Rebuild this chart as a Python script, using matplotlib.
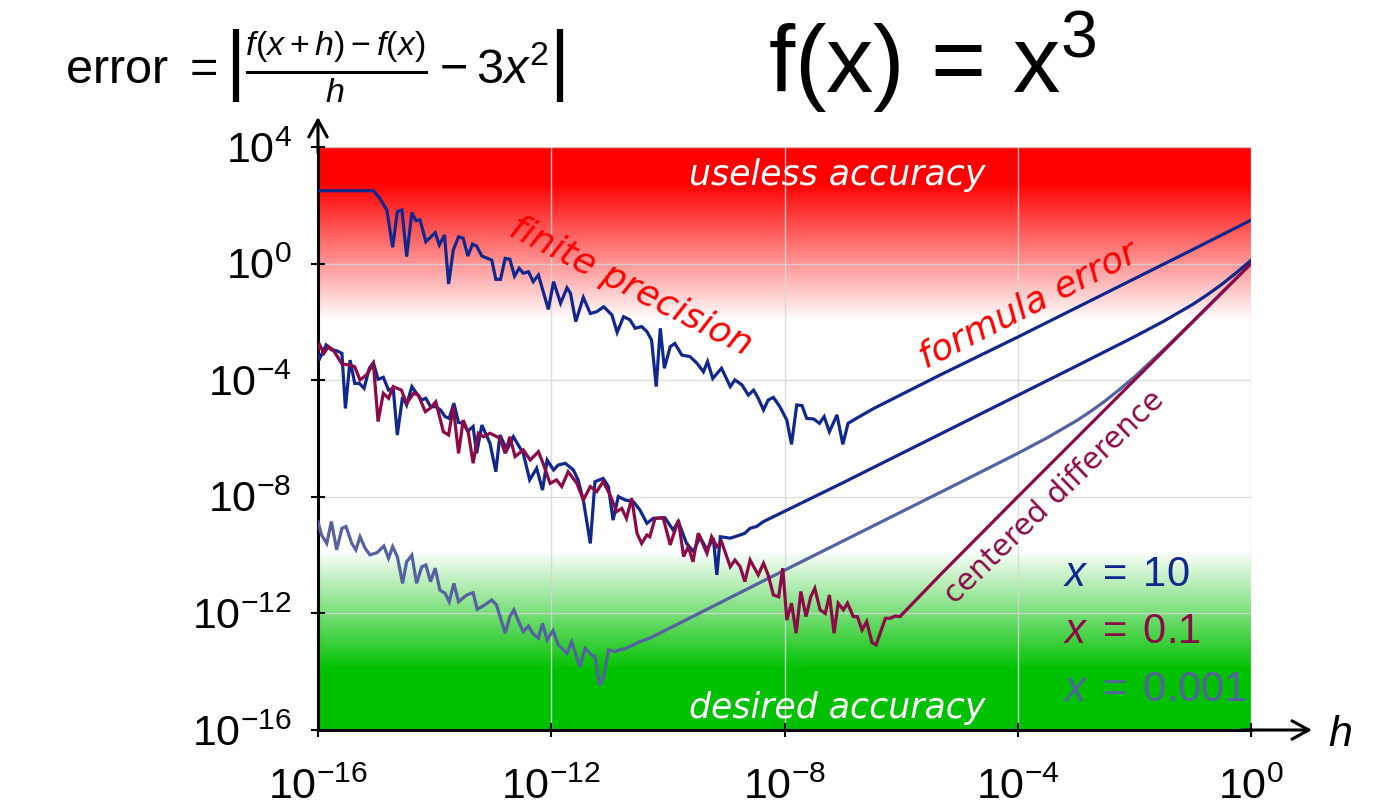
import numpy as np
import matplotlib
matplotlib.use('Agg')
import matplotlib.pyplot as plt
from matplotlib.ticker import NullLocator, FixedLocator

plt.rcParams['mathtext.fontset'] = 'custom'
plt.rcParams['mathtext.rm'] = 'Liberation Sans'
plt.rcParams['mathtext.it'] = 'Liberation Sans:italic'
plt.rcParams['mathtext.bf'] = 'Liberation Sans:bold'
plt.rcParams['mathtext.sf'] = 'Liberation Sans'
plt.rcParams['font.family'] = ['Liberation Sans', 'DejaVu Sans']

# ---------------- data: (log10 h, log10 error) ----------------
x10_forward = [
    (-16.0, 2.50), (-15.05, 2.50), (-14.94, 2.24), (-14.82, 1.84), (-14.72, 0.56), (-14.64, 1.78),
    (-14.56, 1.84), (-14.48, 0.24), (-14.39, 1.75), (-14.32, 1.47), (-14.25, 1.50), (-14.15, 0.75),
    (-13.99, 1.06), (-13.92, 0.64), (-13.83, 0.98), (-13.76, -0.70), (-13.68, 0.47), (-13.59, 0.92),
    (-13.51, 0.87), (-13.43, 0.26), (-13.35, 0.67), (-13.28, 0.60), (-13.19, 0.26), (-13.02, 0.12),
    (-12.95, -0.54), (-12.87, -0.54), (-12.79, 0.18), (-12.71, 0.15), (-12.63, -0.43), (-12.55, -0.16),
    (-12.48, -0.33), (-12.39, -0.28), (-12.31, -0.62), (-12.22, -0.39), (-12.05, -1.57), (-11.96, -0.62),
    (-11.84, -1.36), (-11.73, -0.83), (-11.67, -1.02), (-11.58, -1.99), (-11.45, -1.16), (-11.33, -1.71),
    (-11.22, -1.65), (-11.10, -1.48), (-10.96, -1.76), (-10.87, -2.36), (-10.76, -1.82), (-10.65, -1.93),
    (-10.56, -2.22), (-10.45, -2.16), (-10.36, -2.33), (-10.28, -2.62), (-10.20, -4.22), (-10.13, -2.22),
    (-10.06, -3.59), (-9.96, -2.85), (-9.88, -2.74), (-9.76, -3.14), (-9.62, -3.19), (-9.50, -3.42),
    (-9.39, -3.71), (-9.32, -3.36), (-9.23, -3.94), (-9.08, -3.59), (-8.93, -4.22), (-8.85, -3.99),
    (-8.73, -4.16), (-8.62, -4.51), (-8.53, -4.34), (-8.45, -4.62), (-8.36, -5.02), (-8.28, -4.68),
    (-8.19, -4.59), (-8.08, -4.91), (-7.96, -5.37), (-7.88, -6.20), (-7.79, -4.85), (-7.70, -4.87),
    (-7.62, -5.31), (-7.50, -5.33), (-7.40, -5.48), (-7.32, -5.25), (-7.23, -5.77), (-7.10, -5.19),
    (-7.00, -6.20), (-6.91, -5.48), (-6.82, -5.37), (-6.47, -4.97), (-5.33, -3.82), (-4.0, -2.52),
    (-2.0, -0.52), (-1.0, 0.48), (0.0, 1.49),
]

x01_forward = [
    (-16.0, -3.10), (-15.97, -3.25), (-15.86, -2.79), (-15.77, -2.96), (-15.68, -2.99), (-15.59, -3.08),
    (-15.53, -4.97), (-15.45, -3.31), (-15.37, -4.11), (-15.29, -4.11), (-15.21, -4.28), (-15.12, -3.59),
    (-15.05, -3.40), (-14.97, -3.97), (-14.88, -3.90), (-14.79, -4.34), (-14.71, -4.28), (-14.64, -5.88),
    (-14.55, -4.57), (-14.48, -4.85), (-14.39, -4.22), (-14.31, -4.45), (-14.22, -4.68), (-14.15, -4.62),
    (-14.07, -4.91), (-13.98, -4.91), (-13.90, -5.02), (-13.82, -5.25), (-13.75, -5.31), (-13.67, -4.79),
    (-13.59, -5.45), (-13.51, -5.48), (-13.43, -5.75), (-13.34, -5.59), (-13.28, -6.51), (-13.19, -5.54),
    (-13.05, -6.17), (-12.95, -7.14), (-12.88, -5.88), (-12.76, -6.39), (-12.65, -5.94), (-12.48, -6.51),
    (-12.37, -7.42), (-12.25, -7.02), (-12.15, -7.77), (-12.07, -6.74), (-11.96, -7.08), (-11.88, -6.91),
    (-11.76, -6.85), (-11.62, -7.08), (-11.54, -7.42), (-11.45, -8.11), (-11.33, -9.60), (-11.25, -7.48),
    (-11.11, -7.37), (-11.02, -7.65), (-10.94, -8.80), (-10.85, -7.99), (-10.73, -8.11), (-10.59, -8.17),
    (-10.48, -8.45), (-10.36, -8.91), (-10.25, -8.74), (-10.05, -8.72), (-9.91, -9.14), (-9.82, -8.85),
    (-9.68, -9.60), (-9.56, -9.88), (-9.45, -9.37), (-9.33, -9.82), (-9.22, -9.42), (-9.16, -10.68),
    (-9.10, -9.37), (-8.93, -9.42), (-8.76, -9.31), (-8.68, -9.25), (-8.59, -9.08), (-8.48, -9.02),
    (-8.36, -8.85), (-7.0, -7.52), (-6.0, -6.52), (-5.0, -5.52), (-4.0, -4.52), (-3.0, -3.52),
    (-2.0, -2.51), (-1.5, -1.98), (-1.0, -1.40), (-0.75, -1.07), (-0.5, -0.71), (-0.25, -0.31), (0.0, 0.11),
]

x01_centered = [
    (-16.0, -2.95), (-15.97, -2.79), (-15.90, -3.08), (-15.82, -2.85), (-15.74, -2.96), (-15.59, -3.44),
    (-15.45, -3.48), (-15.37, -3.54), (-15.28, -3.99), (-15.17, -3.82), (-15.05, -3.44), (-14.97, -5.42),
    (-14.88, -4.45), (-14.79, -4.62), (-14.71, -4.22), (-14.57, -4.34), (-14.48, -4.79), (-14.36, -4.45),
    (-14.28, -4.51), (-14.16, -5.08), (-14.08, -4.97), (-13.98, -4.74), (-13.85, -5.77), (-13.76, -5.88),
    (-13.68, -4.91), (-13.59, -6.51), (-13.51, -5.37), (-13.42, -5.82), (-13.34, -6.85), (-13.25, -5.82),
    (-13.16, -5.94), (-13.05, -5.82), (-12.88, -5.99), (-12.79, -6.51), (-12.71, -5.94), (-12.62, -6.62),
    (-12.48, -6.39), (-12.36, -6.74), (-12.22, -6.45), (-12.14, -6.85), (-12.02, -7.54), (-11.91, -7.42),
    (-11.82, -7.65), (-11.71, -7.14), (-11.56, -7.54), (-11.45, -8.11), (-11.33, -7.65), (-11.22, -7.82),
    (-11.11, -7.48), (-10.99, -7.94), (-10.88, -8.51), (-10.79, -8.40), (-10.71, -8.74), (-10.62, -8.05),
    (-10.53, -9.25), (-10.45, -9.60), (-10.36, -9.31), (-10.31, -9.37), (-10.22, -8.74), (-10.08, -8.72),
    (-9.96, -9.65), (-9.82, -8.80), (-9.73, -10.05), (-9.65, -9.71), (-9.57, -10.23), (-9.48, -9.25),
    (-9.33, -9.94), (-9.25, -9.37), (-9.16, -9.71), (-9.08, -9.54), (-8.93, -10.40), (-8.85, -10.17),
    (-8.76, -10.40), (-8.68, -10.91), (-8.59, -10.17), (-8.45, -10.68), (-8.36, -10.28), (-8.28, -10.68),
    (-8.19, -11.37), (-8.10, -11.43), (-8.03, -10.45), (-7.96, -12.23), (-7.88, -11.65), (-7.80, -12.68),
    (-7.72, -11.25), (-7.63, -12.11), (-7.55, -11.43), (-7.48, -11.14), (-7.39, -11.88), (-7.30, -12.00),
    (-7.23, -11.37), (-7.15, -12.68), (-7.08, -11.65), (-6.99, -11.88), (-6.92, -11.65), (-6.82, -12.11),
    (-6.75, -12.11), (-6.67, -12.57), (-6.59, -12.28), (-6.50, -13.00), (-6.43, -13.08), (-6.36, -12.68),
    (-6.27, -12.17), (-6.19, -12.17), (-6.10, -12.09), (-6.02, -12.11), (-5.33, -10.68), (-4.0, -8.0),
    (-2.0, -4.0), (0.0, 0.0),
]

x0001_forward = [
    (-16.0, -8.85), (-15.94, -9.31), (-15.85, -9.60), (-15.77, -8.85), (-15.68, -9.82), (-15.59, -9.08),
    (-15.52, -9.02), (-15.42, -9.60), (-15.35, -9.82), (-15.28, -9.37), (-15.19, -9.77), (-15.11, -9.99),
    (-14.99, -9.92), (-14.87, -9.69), (-14.79, -10.11), (-14.72, -9.71), (-14.64, -10.05), (-14.55, -10.97),
    (-14.48, -10.23), (-14.39, -10.00), (-14.31, -10.97), (-14.22, -10.40), (-14.15, -10.34), (-14.07, -10.91),
    (-13.99, -10.45), (-13.91, -11.20), (-13.82, -11.31), (-13.75, -11.60), (-13.67, -10.97), (-13.59, -11.60),
    (-13.45, -11.37), (-13.34, -11.29), (-13.27, -11.86), (-13.14, -11.71), (-13.02, -11.54), (-12.94, -11.71),
    (-12.79, -12.68), (-12.71, -12.11), (-12.64, -11.88), (-12.56, -12.28), (-12.48, -12.63), (-12.39, -12.43),
    (-12.32, -12.68), (-12.22, -12.85), (-12.15, -12.34), (-12.07, -12.91), (-11.97, -12.59), (-11.88, -13.08),
    (-11.73, -13.37), (-11.65, -12.97), (-11.51, -13.83), (-11.42, -13.20), (-11.31, -13.43), (-11.25, -13.48),
    (-11.17, -14.46), (-11.10, -14.17), (-11.02, -13.25), (-10.92, -13.31), (-10.82, -13.25), (-10.72, -13.20),
    (-10.48, -12.97), (-10.31, -12.85), (-8.0, -10.52), (-6.0, -8.52), (-5.0, -7.52), (-4.0, -6.51),
    (-3.5, -5.98), (-3.0, -5.40), (-2.75, -5.07), (-2.5, -4.71), (-2.25, -4.31), (-2.0, -3.89),
    (-1.5, -2.96), (-1.0, -1.99), (-0.5, -1.00), (0.0, 0.0),
]

xtick_exp = [-16, -12, -8, -4, 0]
ytick_exp = [4, 0, -4, -8, -12, -16]

legend_labels = [r'$x\;=\;10$', r'$x\;=\;0.1$', r'$x\;=\;0.001$']

C_BLUE = '#10288e'
C_MAROON = '#8c0a48'
C_SLATE = '#5661a2'

# ---------------- figure ----------------
W, H = 1394, 808
fig = plt.figure(figsize=(W / 100, H / 100), dpi=100)
rect = [318 / W, (H - 730) / H, 933 / W, 583 / H]

# background shading
bg = fig.add_axes(rect, zorder=0)
fy = np.linspace(0, 1, 800)
red = np.array([1.0, 0.0, 0.0])
white = np.array([1.0, 1.0, 1.0])
green = np.array([0.0, 0.76, 0.0])
cols = np.ones((fy.size, 3))
r_solid, r_white = 0.9385, 0.7035
g_white, g_solid = 0.3085, 0.103
for i, f in enumerate(fy):
    if f >= r_solid:
        cols[i] = red
    elif f >= r_white:
        t = (f - r_white) / (r_solid - r_white)
        cols[i] = white * (1 - t) + red * t
    elif f > g_white:
        cols[i] = white
    elif f > g_solid:
        t = (g_white - f) / (g_white - g_solid)
        cols[i] = white * (1 - t) + green * t
    else:
        cols[i] = green
bg.imshow(cols[:, None, :], aspect='auto', extent=[0, 1, 0, 1], origin='lower',
          interpolation='bilinear')
bg.set_xlim(0, 1)
bg.set_ylim(0, 1)
bg.axis('off')

ax = fig.add_axes(rect, zorder=1)
ax.patch.set_visible(False)
ax.set_xscale('log')
ax.set_yscale('log')
ax.set_xlim(10.0 ** -16, 1.0)
ax.set_ylim(10.0 ** -16, 10.0 ** 4)

ax.xaxis.set_major_locator(FixedLocator([10.0 ** e for e in xtick_exp]))
ax.yaxis.set_major_locator(FixedLocator([10.0 ** e for e in ytick_exp]))
ax.xaxis.set_minor_locator(NullLocator())
ax.yaxis.set_minor_locator(NullLocator())
ax.set_xticklabels([r'$10^{%d}$' % e for e in xtick_exp])
ax.set_yticklabels([r'$10^{%d}$' % e for e in ytick_exp])
ax.tick_params(direction='inout', length=10, width=1.5, labelsize=31, color='black')
ax.tick_params(axis='x', pad=22)
ax.tick_params(axis='y', pad=14)
ax.grid(True, color='#d6d6d6', lw=1.0, alpha=0.85)

for s in ['top', 'right']:
    ax.spines[s].set_visible(False)
for s in ['left', 'bottom']:
    ax.spines[s].set_linewidth(2.2)


def plot_series(data, color, z):
    hs = np.array([p[0] for p in data])
    es = np.array([p[1] for p in data])
    ax.plot(10.0 ** hs, 10.0 ** es, color=color, lw=2.3, solid_joinstyle='miter', zorder=z)


plot_series(x10_forward, C_BLUE, 3)
plot_series(x0001_forward, C_SLATE, 3)
plot_series(x01_forward, C_BLUE, 3)
plot_series(x01_centered, C_MAROON, 4)

# axis arrows
arrow_kw = dict(arrowstyle='->,head_length=0.55,head_width=0.3', lw=2.2, color='black',
                shrinkA=0, shrinkB=0, mutation_scale=22)
ax.annotate('', xy=(0, 1 + 30 / 583), xytext=(0, 0.99), xycoords='axes fraction',
            arrowprops=arrow_kw, annotation_clip=False)
ax.annotate('', xy=((1312 - 318) / 933, 0), xytext=(0.99, 0), xycoords='axes fraction',
            arrowprops=arrow_kw, annotation_clip=False)
fig.text(1340 / W, 1 - 735 / H, r'$h$', fontsize=31, ha='center', va='center')

# annotations
lab_kw = dict(transform=ax.transAxes, family='DejaVu Sans', ha='center', va='center')
ax.text(0.557, 0.952, 'useless accuracy', color='white', fontsize=25, style='italic', **lab_kw)
ax.text(0.557, 0.038, 'desired accuracy', color='white', fontsize=25, style='italic', **lab_kw)
ax.text(0.3355, 0.76, 'finite precision', color='#ff0000', fontsize=26, style='italic',
        rotation=-27, rotation_mode='anchor', **lab_kw)
ax.text(0.761, 0.729, 'formula error', color='#ff0000', fontsize=26, style='italic',
        rotation=27, rotation_mode='anchor', **lab_kw)
ax.text(0.789, 0.40, 'centered difference', color=C_MAROON, fontsize=21.5,
        rotation=44, rotation_mode='anchor', **lab_kw)

for lab, c, yy in zip(legend_labels, [C_BLUE, C_MAROON, C_SLATE], [0.266, 0.168, 0.0686]):
    ax.text(0.7985, yy, lab, color=c, fontsize=30, transform=ax.transAxes, ha='left', va='center')

# titles
fig.text(932 / W, 1 - 62 / H, r'f(x) = x$^3$', fontsize=68, ha='center', va='center')
fig.text(315 / W, 1 - 66 / H, r'error $=\left|\frac{f(x+h)-f(x)}{h}-3x^2\right|$',
         fontsize=35, ha='center', va='center')

fig.savefig('out.png', dpi=100)
